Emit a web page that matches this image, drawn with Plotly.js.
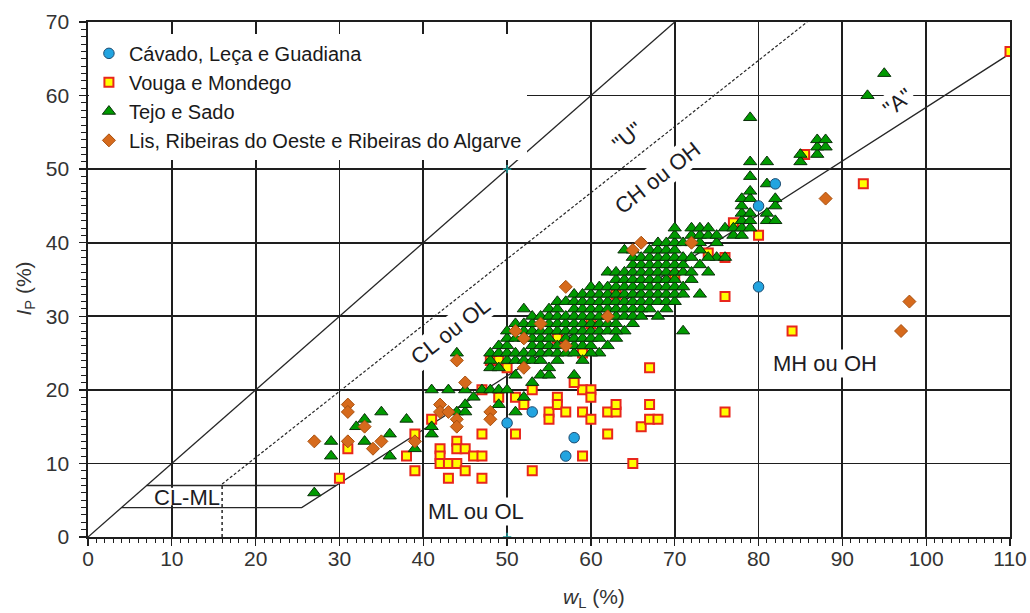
<!DOCTYPE html>
<html>
<head>
<meta charset="utf-8">
<script src="https://cdn.plot.ly/plotly-3.0.1.min.js"></script>
<style>
  html, body { margin: 0; padding: 0; background: #ffffff; }
  #chart { width: 1030px; height: 613px; }
</style>
</head>
<body>
<div id="chart"></div>
<script>
// Liquid limit (w_L, %) and plasticity index (I_P, %) for each group of basins.
const cavadoWL = [50, 53, 58, 57, 80, 82, 80];
const cavadoIP = [15.5, 17, 13.5, 11, 45, 48, 34];

const vougaWL = [30, 31, 38, 39, 39, 41, 42, 42, 42, 43, 44, 44, 44, 45, 45, 43, 46, 47, 47, 47,
  47, 48, 49, 50, 49, 51, 53, 52, 51, 53, 55, 55, 56, 56, 57, 59, 59, 59, 60, 60,
  60, 59, 58, 62, 63, 63, 62, 65, 66, 67, 68, 67, 67, 76, 60, 56, 63, 70, 74, 76,
  76, 77, 80, 84, 85.5, 92.5, 110];
const vougaIP = [8, 12, 11, 14, 9, 16, 12, 11, 10, 10, 10, 13, 12, 12, 9, 8, 11, 11, 14, 8,
  20, 24, 24, 23, 19, 19, 20, 18, 14, 9, 17, 16, 19, 18, 17, 17, 11, 20, 20, 19,
  16, 25, 21, 17, 17, 18, 14, 10, 15, 16, 16, 18, 23, 17, 29, 27, 33, 35.5, 38.6, 38,
  32.7, 42.7, 41, 28, 52, 48, 66];

const tejoWL = [27, 29, 29, 32, 33, 33, 35, 36, 36, 38, 39, 41, 41, 41, 43, 44, 44, 45, 45, 45,
  46, 47, 48, 49, 49, 50, 51, 58, 61, 64, 71, 73, 75, 79, 93, 95,
  48, 48, 48,
  49, 49, 49,
  50, 50, 50, 50, 50,
  51, 51, 51, 51, 51,
  52, 52, 52, 52, 52, 52, 52,
  53, 53, 53, 53, 53, 53, 53, 53,
  54, 54, 54, 54, 54, 54, 54,
  55, 55, 55, 55, 55, 55, 55, 55, 55,
  56, 56, 56, 56, 56, 56, 56, 56,
  57, 57, 57, 57, 57, 57,
  58, 58, 58, 58, 58, 58, 58, 58, 58,
  59, 59, 59, 59, 59, 59, 59, 59, 59,
  60, 60, 60, 60, 60, 60, 60, 60, 60, 60,
  61, 61, 61, 61, 61, 61, 61, 61,
  62, 62, 62, 62, 62, 62, 62, 62, 62,
  63, 63, 63, 63, 63, 63, 63, 63, 63, 63,
  64, 64, 64, 64, 64, 64, 64, 64,
  65, 65, 65, 65, 65, 65, 65, 65, 65, 65, 65,
  66, 66, 66, 66, 66, 66, 66, 66, 66,
  67, 67, 67, 67, 67, 67, 67, 67, 67,
  68, 68, 68, 68, 68, 68, 68, 68, 68, 68,
  69, 69, 69, 69, 69, 69, 69, 69, 69, 69,
  70, 70, 70, 70, 70, 70, 70, 70, 70, 70, 70,
  71, 71, 71, 71, 71, 71,
  72, 72, 72, 72, 72, 72,
  73, 73, 73, 73, 73,
  74, 74, 74, 74,
  75, 75,
  76, 76,
  77, 77,
  78, 78, 78, 78, 78, 78,
  79, 79, 79, 79, 79, 79, 79,
  81, 81, 81, 81,
  82, 82, 82,
  85, 85,
  87, 87, 87,
  88, 88];
const tejoIP = [6, 11, 13, 15, 13, 16, 17, 11, 14, 16, 12, 14, 15, 20, 20, 17, 25, 17, 18, 20,
  19, 20, 20, 18, 20, 20, 17, 22, 25, 28, 28, 33, 38, 57, 60, 63,
  23, 24, 25,
  23, 25, 26,
  24, 25, 26, 27, 28,
  22, 24, 25, 27, 29,
  19, 24, 25, 27, 28, 29, 31,
  21, 24, 25, 26, 27, 28, 29, 30,
  22, 24, 25, 26, 27, 28, 30,
  22, 23, 25, 26, 27, 28, 29, 30, 31,
  24, 25, 26, 28, 29, 30, 31, 32,
  25, 27, 28, 29, 30, 32,
  25, 26, 27, 28, 29, 30, 31, 32, 33,
  24, 26, 27, 28, 29, 30, 31, 32, 33,
  25, 26, 27, 28, 29, 30, 31, 32, 33, 34,
  27, 28, 29, 30, 31, 32, 33, 34,
  26, 28, 29, 30, 31, 32, 33, 34, 36,
  27, 28, 29, 30, 31, 32, 33, 34, 35, 36,
  30, 31, 32, 33, 34, 35, 36, 39,
  29, 30, 31, 32, 33, 34, 35, 36, 37, 38, 39,
  30, 31, 32, 33, 34, 35, 36, 37, 38,
  31, 32, 33, 34, 35, 36, 37, 38, 39,
  30, 32, 33, 34, 35, 36, 37, 38, 39, 40,
  31, 32, 33, 34, 35, 36, 37, 38, 39, 40,
  32, 33, 34, 35, 36, 37, 38, 39, 40, 41, 42,
  33, 34, 36, 37, 38, 40,
  35, 36, 38, 40, 41, 42,
  37, 39, 40, 41, 42,
  36, 38, 41, 42,
  40, 41,
  38, 42,
  41, 42,
  41, 42, 43, 44, 45, 46,
  42, 43, 44, 46, 47, 49, 51,
  43, 44, 48, 51,
  43, 45, 46,
  51, 52,
  52, 53, 54,
  53, 54];

const lisWL = [27, 31, 31, 31, 33, 34, 35, 39, 42, 42, 43, 44, 44, 45, 44, 48, 48, 52, 51, 52,
  54, 57, 57, 62, 65, 66, 72, 88, 98, 97];
const lisIP = [13, 18, 17, 13, 15, 12, 13, 13, 18, 17, 17, 16, 15, 21, 24, 17, 16, 23, 28, 27,
  29, 26, 34, 30, 39, 40, 40, 46, 32, 28];

// Casagrande plasticity chart reference lines.
const limitWL = [0, 70];            // I_P = w_L
const limitIP = [0, 70];
const uLineWL = [16, 85.8];         // "U" line: I_P = 0.9 (w_L - 8)
const uLineIP = [7.2, 70];
const aLineWL = [4, 25.5, 110];     // "A" line: I_P = 0.73 (w_L - 20), capped at I_P = 4
const aLineIP = [4, 4, 65.7];
const clmlTopWL = [7, 29.6];        // upper edge of the CL-ML band
const clmlTopIP = [7, 7];
const dropWL = [16, 16];            // foot of the "U" line
const dropIP = [0, 7.2];
const markWL = [50, 50];            // w_L = 50 markers
const markIP = [0, 50];

const xTicks = [0, 10, 20, 30, 40, 50, 60, 70, 80, 90, 100, 110];
const yTicks = [0, 10, 20, 30, 40, 50, 60, 70];

const FONT = 'Liberation Sans, Arial, sans-serif';
const INK = '#1e1e1e';

function refLine(x, y, dash, width) {
  return {
    x: x, y: y, type: 'scatter', mode: 'lines', showlegend: false, hoverinfo: 'skip',
    line: { color: '#262626', width: width || 1.3, dash: dash || 'solid' }
  };
}

const traces = [
  refLine(limitWL, limitIP),
  refLine(uLineWL, uLineIP, '3px,2px', 1.2),
  refLine(aLineWL, aLineIP),
  refLine(clmlTopWL, clmlTopIP),
  refLine(dropWL, dropIP, 'dot', 1.5),
  {
    x: markWL, y: markIP, type: 'scatter', mode: 'markers', showlegend: false, hoverinfo: 'skip',
    marker: { symbol: 'cross-thin', size: 6, line: { color: '#1e9a9a', width: 1.5 } }
  },
  {
    name: 'Vouga e Mondego', legendrank: 2, legendgroup: 'b',
    x: vougaWL, y: vougaIP, type: 'scatter', mode: 'markers',
    marker: { symbol: 'square', size: 9, color: '#ffff00', line: { color: '#e8261c', width: 2 } }
  },
  {
    name: 'Tejo e Sado', legendrank: 3, legendgroup: 'c',
    x: tejoWL, y: tejoIP, type: 'scatter', mode: 'markers',
    marker: { symbol: 'triangle-up', size: 11.5, color: '#009a00', line: { color: '#0b300b', width: 1 } }
  },
  {
    name: 'Lis, Ribeiras do Oeste e Ribeiras do Algarve', legendrank: 4, legendgroup: 'd',
    x: lisWL, y: lisIP, type: 'scatter', mode: 'markers',
    marker: { symbol: 'diamond', size: 10, color: '#d66a1c', line: { color: '#a8500f', width: 1 } }
  },
  {
    name: 'Cávado, Leça e Guadiana', legendrank: 1, legendgroup: 'a',
    x: cavadoWL, y: cavadoIP, type: 'scatter', mode: 'markers',
    marker: { symbol: 'circle', size: 10.5, color: '#22a4e0', line: { color: '#1c4a70', width: 1 } }
  }
];

function zoneLabel(text, x, y, angle, bg) {
  return {
    text: text, x: x, y: y, xref: 'x', yref: 'y', showarrow: false,
    xanchor: 'center', yanchor: 'middle',
    textangle: angle, bgcolor: bg ? '#ffffff' : 'rgba(0,0,0,0)', borderpad: 1,
    font: { family: FONT, size: 22, color: '#1c1c24' }
  };
}

const layout = {
  width: 1030, height: 613,
  margin: { l: 88, r: 20, t: 22, b: 76 },
  paper_bgcolor: '#ffffff', plot_bgcolor: '#ffffff',
  font: { family: FONT, color: INK },
  showlegend: true,
  legend: {
    x: 0.001, y: 0.977, xanchor: 'left', yanchor: 'top',
    bgcolor: '#ffffff', borderwidth: 0, tracegroupgap: 0,
    font: { family: FONT, size: 20, color: '#1a1a1a' }
  },
  xaxis: {
    range: [0, 110], tickvals: xTicks, ticktext: xTicks.map(String),
    showgrid: true, gridcolor: INK, gridwidth: 1.8, zeroline: false,
    showline: true, linecolor: INK, linewidth: 1.6, mirror: true,
    ticks: 'outside', ticklen: 7, tickcolor: INK, tickwidth: 1.3,
    ticklabelstandoff: -5,
    minor: { dtick: 1, ticks: 'outside', ticklen: 4, tickcolor: INK, tickwidth: 1, showgrid: false },
    tickfont: { family: FONT, size: 21, color: '#333333' },
    fixedrange: true
  },
  yaxis: {
    range: [0, 70], tickvals: yTicks, ticktext: yTicks.map(String),
    showgrid: true, gridcolor: INK, gridwidth: 1.8, zeroline: false,
    showline: true, linecolor: INK, linewidth: 1.6, mirror: true,
    ticks: 'outside', ticklen: 7, tickcolor: INK, tickwidth: 1.3,
    ticklabelstandoff: 6,
    minor: { dtick: 1, ticks: 'outside', ticklen: 5, tickcolor: INK, tickwidth: 1, showgrid: false },
    tickfont: { family: FONT, size: 21, color: '#333333' },
    fixedrange: true
  },
  shapes: [
    // keeps the grid clear behind the CL-ML label without hiding the band edges
    { type: 'rect', layer: 'between', xref: 'x', yref: 'y', x0: 7.6, x1: 15.6, y0: 4.3, y1: 6.7,
      fillcolor: '#ffffff', line: { width: 0 } }
  ],
  annotations: [
    zoneLabel('CL ou OL', 43.2, 27.9, -38, true),
    zoneLabel('CH ou OH', 68.0, 48.8, -38, true),
    zoneLabel('"U"', 64.4, 54.4, -40, false),
    zoneLabel('"A"', 96.6, 59.0, -38, true),
    zoneLabel('CL-ML', 11.8, 5.4, 0, false),
    zoneLabel('ML ou OL', 46.3, 3.4, 0, true),
    zoneLabel('MH ou OH', 87.9, 23.6, 0, true),
    {
      text: '<i>w</i><sub>L</sub> (%)', xref: 'paper', yref: 'paper', x: 0.549, y: -0.118,
      xanchor: 'center', yanchor: 'middle',
      showarrow: false, font: { family: FONT, size: 21, color: '#333333' }
    },
    {
      text: '<i>I</i><sub>P</sub> (%)', xref: 'paper', yref: 'paper', x: -0.068, y: 0.483,
      xanchor: 'center', yanchor: 'middle',
      textangle: -90, showarrow: false, font: { family: FONT, size: 21, color: '#333333' }
    }
  ]
};

Plotly.newPlot('chart', traces, layout, { displayModeBar: false, staticPlot: true });
</script>
</body>
</html>
